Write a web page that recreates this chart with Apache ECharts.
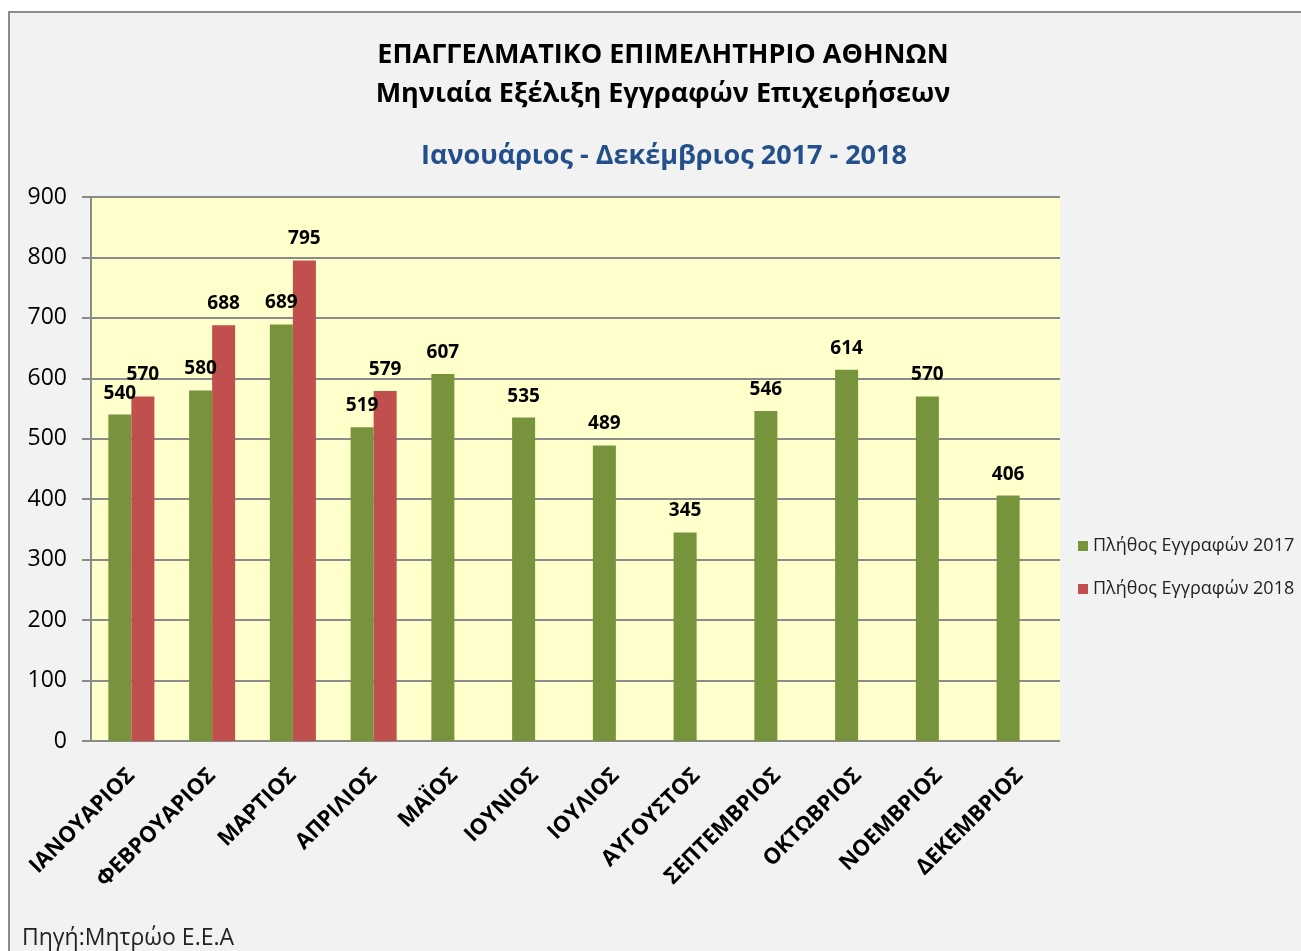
<!DOCTYPE html>
<html>
<head>
<meta charset="utf-8">
<script src="https://cdn.jsdelivr.net/npm/echarts@6/dist/echarts.min.js"></script>
<style>
	html,body{margin:0;padding:0;background:#fff;overflow:hidden;}
	.frame{position:absolute;left:8px;top:11px;width:1400px;height:1000px;background:#f2f2f2;border-left:2px solid #8c8c8c;border-top:2px solid #8c8c8c;}
	#main{position:absolute;left:0;top:0;width:1301px;height:951px;}
</style>
</head>
<body>
<div class="frame"></div>
<div id="main"></div>

<script type="text/javascript">
	// μήνες
	var months = ["ΙΑΝΟΥΑΡΙΟΣ","ΦΕΒΡΟΥΑΡΙΟΣ","ΜΑΡΤΙΟΣ","ΑΠΡΙΛΙΟΣ","ΜΑΪΟΣ","ΙΟΥΝΙΟΣ","ΙΟΥΛΙΟΣ","ΑΥΓΟΥΣΤΟΣ","ΣΕΠΤΕΜΒΡΙΟΣ","ΟΚΤΩΒΡΙΟΣ","ΝΟΕΜΒΡΙΟΣ","ΔΕΚΕΜΒΡΙΟΣ"];
	var values2017 = [540,580,689,519,607,535,489,345,546,614,570,406];
	var values2018 = [570,688,795,579,null,null,null,null,null,null,null,null];
	var seriesNames = ["Πλήθος Εγγραφών 2017","Πλήθος Εγγραφών 2018"];
	var yTicks = {min:0,max:900,interval:100};

	var font = "'Open Sans', 'Noto Sans', sans-serif";
	var gridColor = "#8b8b8b";

	var myChart = echarts.init(document.getElementById("main"));

	var labelStyle = {
		show:true,
		position:'top',
		distance:12,
		fontFamily:font,
		fontWeight:'bold',
		fontSize:19,
		color:'#000'
	};

	var option = {
		backgroundColor:'transparent',
		title:[
			{
				text:"ΕΠΑΓΓΕΛΜΑΤΙΚΟ ΕΠΙΜΕΛΗΤΗΡΙΟ ΑΘΗΝΩΝ\nΜηνιαία Εξέλιξη Εγγραφών Επιχειρήσεων",
				left:658,
				top:31,
				textAlign:'center',
				textStyle:{fontFamily:font,fontWeight:'bold',fontSize:27,lineHeight:39,color:'#000'}
			},
			{
				text:"Ιανουάριος - Δεκέμβριος 2017 - 2018",
				left:659,
				top:138,
				textAlign:'center',
				textStyle:{fontFamily:font,fontWeight:'bold',fontSize:27,color:'#23508a'}
			},
			{
				text:"Πηγή:Μητρώο Ε.Ε.Α",
				left:17,
				top:922,
				textStyle:{fontFamily:font,fontWeight:'normal',fontSize:23,color:'#222'}
			}
		],
		legend:{
			orient:'vertical',
			left:1073,
			top:532,
			icon:'rect',
			itemWidth:10,
			itemHeight:10,
			itemGap:25,
			textStyle:{fontFamily:font,fontSize:18,color:'#222'},
			data:seriesNames
		},
		grid:{
			left:91,
			right:241,
			top:197,
			bottom:210,
			show:true,
			backgroundColor:'#ffffcc',
			borderWidth:0
		},
		xAxis:{
			type:'category',
			data:months,
			axisLine:{show:false},
			axisTick:{show:false},
			axisLabel:{
				rotate:45,
				interval:0,
				margin:31,
				fontFamily:font,
				fontWeight:'bold',
				fontSize:22,
				color:'#000'
			}
		},
		yAxis:{
			type:'value',
			min:yTicks.min,
			max:yTicks.max,
			interval:yTicks.interval,
			axisLine:{show:true,lineStyle:{color:gridColor,width:2}},
			axisTick:{show:true,length:9,lineStyle:{color:gridColor,width:2}},
			splitLine:{show:true,lineStyle:{color:gridColor,width:2}},
			axisLabel:{margin:24,fontFamily:font,fontSize:23,color:'#000'}
		},
		series:[
			{
				name:seriesNames[0],
				type:'bar',
				data:values2017,
				barGap:0,
				barCategoryGap:'43%',
				itemStyle:{color:'#77933c'},
				label:labelStyle
			},
			{
				name:seriesNames[1],
				type:'bar',
				data:values2018,
				itemStyle:{color:'#c0504d'},
				label:labelStyle
			}
		]
	};

	myChart.setOption(option);
</script>
</body>
</html>
